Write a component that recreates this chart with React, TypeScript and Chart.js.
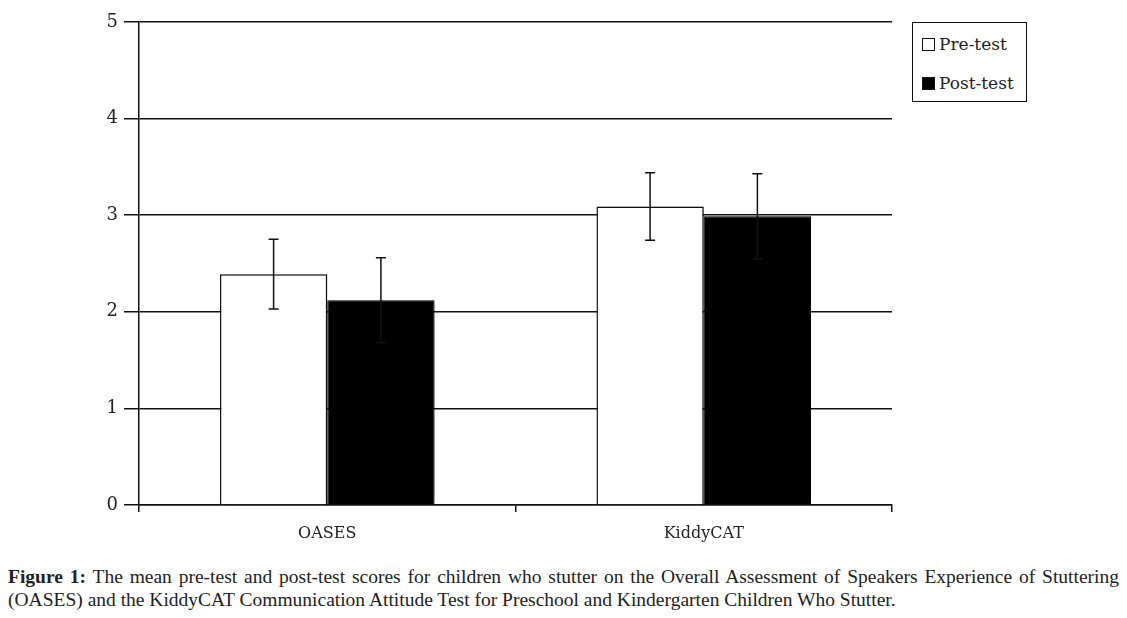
import React, { useEffect, useRef } from "react";
import { Chart, registerables } from "chart.js";

Chart.register(...registerables);

const categories = ["OASES", "KiddyCAT"];
const preMeans = [2.39, 3.09];
const preErrors = [0.36, 0.35];
const postMeans = [2.12, 2.99];
const postErrors = [0.44, 0.44];
const yTicks = [0, 1, 2, 3, 4, 5];
const seriesNames = ["Pre-test", "Post-test"];

const X_FONT = { family: "'DejaVu Serif', serif", size: 16 };
const Y_FONT = { family: "'DejaVu Serif', serif", size: 18 };

const errorBarPlugin = {
  id: "errorBars",
  afterDatasetsDraw(chart: any) {
    const ctx = chart.ctx;
    const yScale = chart.scales.y;
    const errs = [preErrors, postErrors];
    ctx.save();
    ctx.strokeStyle = "#111";
    ctx.lineWidth = 1.5;
    chart.data.datasets.forEach((ds: any, di: number) => {
      const meta = chart.getDatasetMeta(di);
      meta.data.forEach((bar: any, i: number) => {
        const v = ds.data[i];
        const e = errs[di][i];
        const x = bar.x;
        const yt = yScale.getPixelForValue(v + e);
        const yb = yScale.getPixelForValue(v - e);
        ctx.beginPath();
        ctx.moveTo(x, yt);
        ctx.lineTo(x, yb);
        ctx.moveTo(x - 5, yt);
        ctx.lineTo(x + 5, yt);
        ctx.moveTo(x - 5, yb);
        ctx.lineTo(x + 5, yb);
        ctx.stroke();
      });
    });
    ctx.restore();
  },
};

const shadowPlugin = {
  id: "barShadow",
  beforeDatasetsDraw(chart: any) {
    const ctx = chart.ctx;
    ctx.save();
    ctx.shadowColor = "rgba(0,0,0,0.28)";
    ctx.shadowOffsetX = 4;
    ctx.shadowOffsetY = 0;
    ctx.shadowBlur = 4;
  },
  afterDatasetsDraw(chart: any) {
    chart.ctx.restore();
  },
};

export default function App() {
  const canvasRef = useRef<HTMLCanvasElement | null>(null);

  useEffect(() => {
    if (!canvasRef.current) return;
    const chart = new Chart(canvasRef.current, {
      type: "bar",
      data: {
        labels: categories,
        datasets: [
          {
            label: seriesNames[0],
            data: preMeans,
            backgroundColor: "#ffffff",
            borderColor: "#111",
            borderWidth: 1.5,
            categoryPercentage: 0.57,
            barPercentage: 1.0,
          },
          {
            label: seriesNames[1],
            data: postMeans,
            backgroundColor: "#000000",
            borderColor: "#000",
            borderWidth: 1,
            categoryPercentage: 0.57,
            barPercentage: 1.0,
          },
        ],
      },
      options: {
        animation: false,
        responsive: false,
        devicePixelRatio: 1,
        layout: { padding: { left: 0, right: 227, top: 14, bottom: 0 } },
        plugins: {
          legend: { display: false },
          tooltip: { enabled: false },
        },
        scales: {
          x: {
            offset: true,
            grid: {
              display: true,
              offset: true,
              drawOnChartArea: false,
              drawTicks: true,
              tickLength: 7,
              color: "#111",
              lineWidth: 1.5,
            },
            border: { display: true, color: "#111", width: 1.5 },
            ticks: { font: X_FONT, color: "#222", padding: 12 },
            afterFit: (scale: any) => {
              scale.height = 48;
            },
          },
          y: {
            min: 0,
            max: 5,
            afterBuildTicks: (scale: any) => {
              scale.ticks = yTicks.map((v) => ({ value: v }));
            },
            grid: {
              color: "#111",
              lineWidth: 1.5,
              tickLength: 15,
              drawTicks: true,
            },
            border: { display: true, color: "#111", width: 1.5 },
            ticks: { font: Y_FONT, color: "#222", padding: 6 },
            afterFit: (scale: any) => {
              scale.width = 131;
              scale.paddingTop = 0;
              scale.paddingBottom = 0;
            },
          },
        },
      },
      plugins: [shadowPlugin, errorBarPlugin],
    });
    return () => chart.destroy();
  }, []);

  const legendRow = (name: string, fill: string, top: number) => (
    <div
      style={{
        position: "absolute",
        left: 9,
        top: top - 10,
        height: 20,
        display: "flex",
        alignItems: "center",
        fontFamily: "'DejaVu Serif', serif",
        fontSize: 17,
        color: "#222",
        whiteSpace: "nowrap",
      }}
    >
      <span
        style={{
          display: "inline-block",
          width: 11,
          height: 11,
          border: "1px solid #111",
          background: fill,
          marginRight: 4,
        }}
      />
      {name}
    </div>
  );

  const captionBase: React.CSSProperties = {
    fontFamily: "'Liberation Serif', serif",
    fontSize: 19.5,
    lineHeight: "23px",
    color: "#222",
    whiteSpace: "nowrap",
  };

  return (
    <div style={{ position: "relative", width: 1111 }}>
      <div style={{ position: "relative", width: 1111, height: 545 }}>
        <canvas ref={canvasRef} width={1111} height={545} style={{ display: "block" }} />
        <div
          style={{
            position: "absolute",
            left: 904,
            top: 14,
            width: 113,
            height: 78,
            border: "1.5px solid #111",
            background: "#fff",
          }}
        >
          {legendRow(seriesNames[0], "#fff", 21)}
          {legendRow(seriesNames[1], "#000", 60)}
        </div>
      </div>
      <div style={{ marginTop: 12 }}>
        <div
          style={{
            ...captionBase,
            whiteSpace: "normal",
            textAlign: "justify",
            textAlignLast: "justify" as any,
          }}
        >
          <b>Figure 1:</b> The mean pre-test and post-test scores for children who stutter on the Overall Assessment of Speakers Experience of Stuttering
        </div>
        <div style={captionBase}>
          (OASES) and the KiddyCAT Communication Attitude Test for Preschool and Kindergarten Children Who Stutter.
        </div>
      </div>
    </div>
  );
}
